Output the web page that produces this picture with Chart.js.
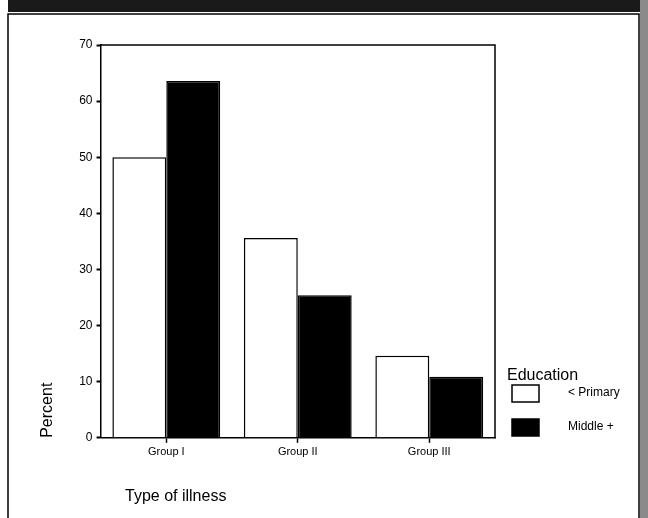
<!DOCTYPE html>
<html>
<head>
<meta charset="utf-8">
<script src="https://cdn.jsdelivr.net/npm/chart.js@4/dist/chart.umd.min.js"></script>
<style>
  html, body { margin: 0; padding: 0; background: #fff; }
  #wrap { width: 648px; height: 518px; position: relative; }
</style>
</head>
<body>
<div id="wrap"><canvas id="chart" width="648" height="518"></canvas></div>
<script>
const categories = ['Group I', 'Group II', 'Group III'];
const seriesNames = ['< Primary', 'Middle +'];
const primaryValues = [50.0, 35.6, 14.6];
const middleValues = [63.6, 25.4, 10.9];
const yTicks = [0, 10, 20, 30, 40, 50, 60, 70];

const FONT = 'Arial, "Liberation Sans", sans-serif';

// scan frame, plot box and the legend on the right
const paperPlugin = {
    id: 'paper',
    beforeDraw(chart) {
        const ctx = chart.ctx;
        ctx.save();
        ctx.fillStyle = '#fff';
        ctx.fillRect(0, 0, chart.width, chart.height);
        // dark scan band along the top
        ctx.fillStyle = '#1a1a1a';
        ctx.fillRect(8, 0, 640, 12);
        // grey noisy strip down the right edge
        ctx.fillStyle = '#8a8a8a';
        ctx.fillRect(640, 0, 8, 518);
        ctx.strokeStyle = '#000';
        ctx.lineWidth = 1.5;
        ctx.beginPath();
        ctx.moveTo(8, 518);
        ctx.lineTo(8, 14);
        ctx.lineTo(639, 14);
        ctx.lineTo(639, 518);
        ctx.stroke();
        ctx.restore();
    },
    afterDraw(chart) {
        const ctx = chart.ctx;
        const a = chart.chartArea;
        ctx.save();
        ctx.strokeStyle = '#000';
        ctx.lineWidth = 1.5;
        ctx.beginPath();
        ctx.moveTo(a.left, a.top);
        ctx.lineTo(a.right, a.top);
        ctx.lineTo(a.right, a.bottom);
        ctx.stroke();

        // legend
        ctx.fillStyle = '#000';
        ctx.textBaseline = 'middle';
        ctx.font = '16px ' + FONT;
        ctx.fillText('Education', 507, 376);
        ctx.font = '12px ' + FONT;
        chart.data.datasets.forEach((ds, i) => {
            const y = 385 + i * 34;
            ctx.fillStyle = ds.backgroundColor;
            ctx.fillRect(512, y, 27, 17);
            ctx.strokeRect(512, y, 27, 17);
            ctx.fillStyle = '#000';
            ctx.fillText(ds.label, 568, y + 8);
        });

        // x axis title, left aligned under the plot
        ctx.font = '16px ' + FONT;
        ctx.fillText('Type of illness', 125, 497);
        ctx.restore();
    }
};

new Chart(document.getElementById('chart'), {
    type: 'bar',
    data: {
        labels: categories,
        datasets: [{
            label: seriesNames[0],
            data: primaryValues,
            backgroundColor: '#ffffff',
            borderColor: '#000',
            borderWidth: 1.5,
            categoryPercentage: 0.82,
            barPercentage: 1.0
        }, {
            label: seriesNames[1],
            data: middleValues,
            backgroundColor: '#000000',
            borderColor: '#000',
            borderWidth: 1.5,
            categoryPercentage: 0.82,
            barPercentage: 1.0
        }]
    },
    options: {
        responsive: false,
        animation: false,
        layout: { padding: { left: 30, right: 153, top: 45, bottom: 56 } },
        plugins: {
            legend: { display: false },
            tooltip: { enabled: false }
        },
        scales: {
            x: {
                grid: { drawOnChartArea: false, offset: false, tickLength: 5, color: '#000', tickWidth: 1.5 },
                border: { color: '#000', width: 1.5 },
                ticks: { color: '#000', font: { family: FONT, size: 11 }, padding: 3 }
            },
            y: {
                min: 0,
                max: 70,
                afterBuildTicks(scale) {
                    scale.ticks = yTicks.map(v => ({ value: v }));
                },
                grid: { drawOnChartArea: false, tickLength: 4, color: '#000', tickWidth: 2 },
                border: { color: '#000', width: 1.5 },
                ticks: { color: '#000', font: { family: FONT, size: 12 }, padding: 4 },
                title: {
                    display: true,
                    text: 'Percent',
                    align: 'start',
                    color: '#000',
                    font: { family: FONT, size: 16 },
                    padding: { top: 8, bottom: 18 }
                }
            }
        }
    },
    plugins: [paperPlugin]
});
</script>
</body>
</html>
